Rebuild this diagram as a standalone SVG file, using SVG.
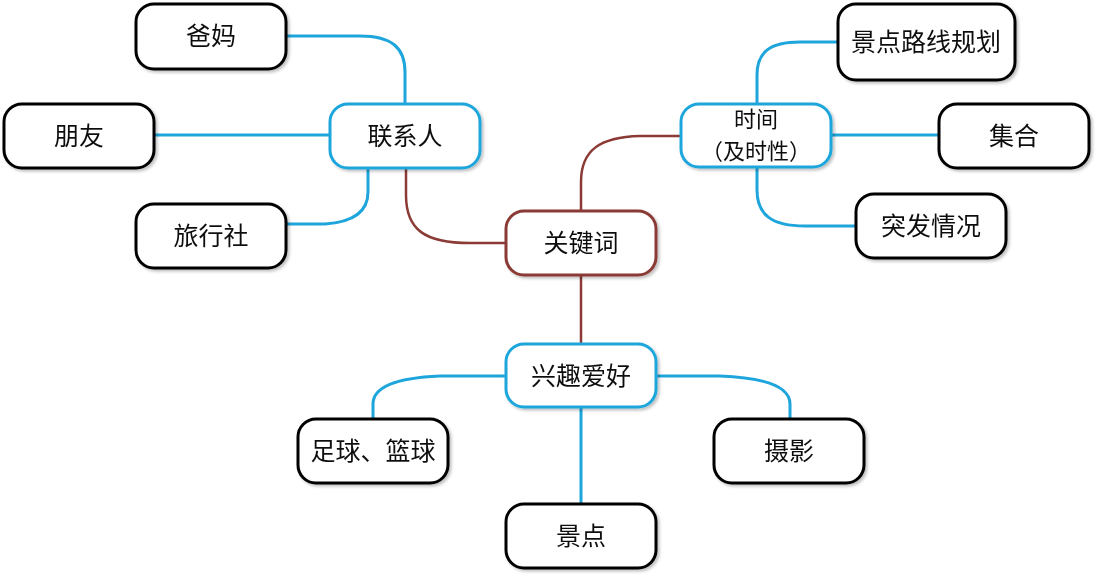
<svg xmlns="http://www.w3.org/2000/svg" width="1098" height="576" viewBox="0 0 1098 576">
<defs>
<style>
.box{fill:#fff;stroke-width:3}
.k{stroke:#000}
.b{stroke:#1ea6dc}
.r{stroke:#8b3a35}
.t{font-family:"Noto Sans CJK SC","Noto Sans",sans-serif;font-size:25px;fill:#111;text-anchor:middle}
.t2{font-size:22px}
.cb{fill:none;stroke:#1ea6dc;stroke-width:3}
.cr{fill:none;stroke:#8b3a35;stroke-width:2.5}
</style>
<filter id="sh" x="-10%" y="-10%" width="125%" height="130%">
<feDropShadow dx="2" dy="2" stdDeviation="1.5" flood-color="#000" flood-opacity="0.25"/>
</filter>
</defs>
<rect width="1098" height="576" fill="#fff"/>
<g id="connectors">
<path class="cb" d="M287,36 H360 C392,36 405,48 405,72 V103"/>
<path class="cb" d="M155,135 H330"/>
<path class="cb" d="M287,224 H325 C355,222 368,210 368,192 V168"/>
<path class="cr" d="M406,168 V195 C406,230 425,243 470,243 H505"/>
<path class="cr" d="M581,210 V182 C581,150 600,137 640,136 H680"/>
<path class="cb" d="M757,103 V75 C757,52 770,42 800,42 H837"/>
<path class="cb" d="M832,135 H938"/>
<path class="cb" d="M757,167 V190 C757,215 772,226 805,226 H855"/>
<path class="cr" d="M581,275 V343"/>
<path class="cb" d="M505,376 H440 C392,378 373,388 373,404 V418"/>
<path class="cb" d="M657,376 H720 C770,378 790,388 790,404 V418"/>
<path class="cb" d="M581,407 V503"/>
</g>
<g id="n-bama" filter="url(#sh)"><rect class="box k" x="136" y="4" width="150" height="65" rx="18"/><text class="t" x="211" y="45">爸妈</text></g>
<g id="n-pengyou" filter="url(#sh)"><rect class="box k" x="4" y="104" width="150" height="64" rx="18"/><text class="t" x="79" y="145">朋友</text></g>
<g id="n-lianxiren" filter="url(#sh)"><rect class="box b" x="330" y="104" width="150" height="64" rx="18"/><text class="t" x="405" y="145">联系人</text></g>
<g id="n-lvxingshe" filter="url(#sh)"><rect class="box k" x="136" y="204" width="150" height="64" rx="18"/><text class="t" x="211" y="245">旅行社</text></g>
<g id="n-guanjianci" filter="url(#sh)"><rect class="box r" x="506" y="211" width="150" height="64" rx="18"/><text class="t" x="581" y="252">关键词</text></g>
<g id="n-shijian" filter="url(#sh)"><rect class="box b" x="681" y="104" width="150" height="63" rx="18"/><text class="t t2" x="756" y="127">时间</text><text class="t t2" x="756" y="159">（及时性）</text></g>
<g id="n-luxian" filter="url(#sh)"><rect class="box k" x="838" y="4" width="177" height="76" rx="18"/><text class="t" x="926" y="51">景点路线规划</text></g>
<g id="n-jihe" filter="url(#sh)"><rect class="box k" x="939" y="104" width="150" height="64" rx="18"/><text class="t" x="1014" y="145">集合</text></g>
<g id="n-tufa" filter="url(#sh)"><rect class="box k" x="856" y="194" width="150" height="64" rx="18"/><text class="t" x="931" y="235">突发情况</text></g>
<g id="n-xingqu" filter="url(#sh)"><rect class="box b" x="506" y="344" width="150" height="63" rx="18"/><text class="t" x="581" y="385">兴趣爱好</text></g>
<g id="n-zuqiu" filter="url(#sh)"><rect class="box k" x="298" y="419" width="150" height="64" rx="18"/><text class="t" x="373" y="460">足球、篮球</text></g>
<g id="n-sheying" filter="url(#sh)"><rect class="box k" x="714" y="419" width="150" height="64" rx="18"/><text class="t" x="789" y="460">摄影</text></g>
<g id="n-jingdian" filter="url(#sh)"><rect class="box k" x="506" y="504" width="150" height="64" rx="18"/><text class="t" x="581" y="545">景点</text></g>
</svg>
